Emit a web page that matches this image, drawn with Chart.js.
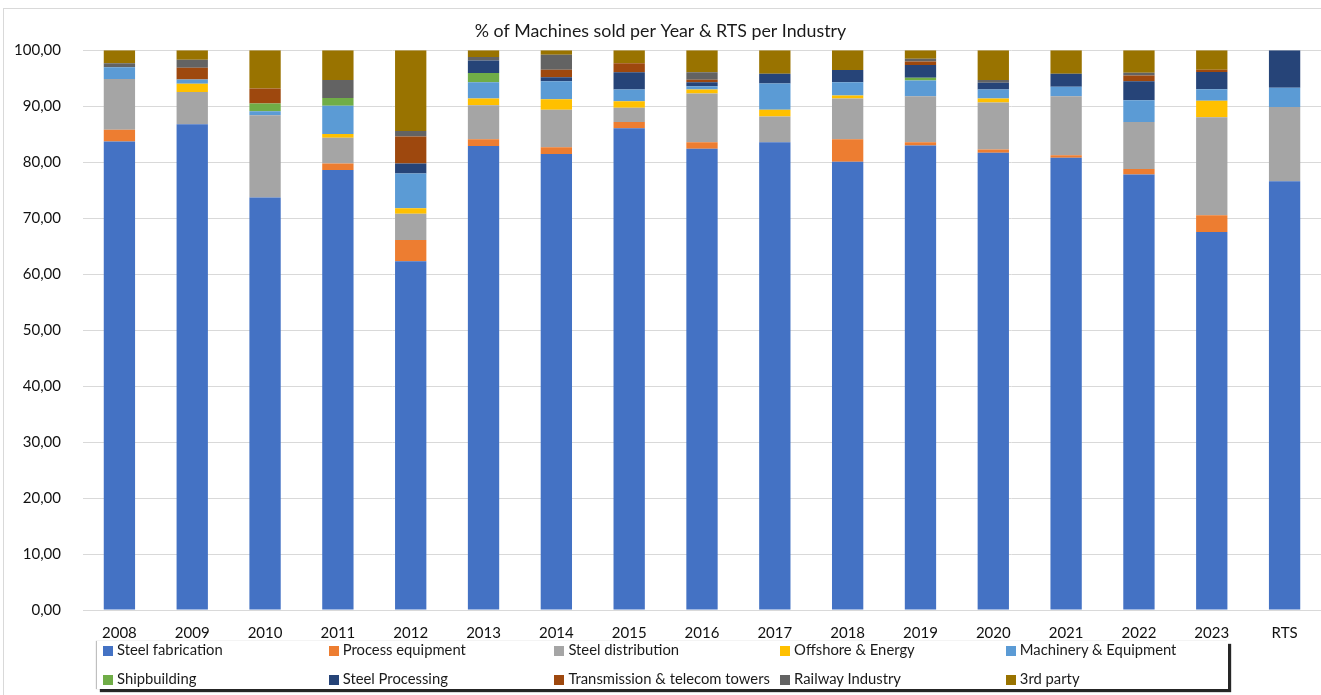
<!DOCTYPE html>
<html>
<head>
<meta charset="utf-8">
<title>% of Machines sold per Year & RTS per Industry</title>
<script src="https://cdn.jsdelivr.net/npm/chart.js@4.4.1/dist/chart.umd.min.js"></script>
<style>
  html, body { margin: 0; padding: 0; background: #fff; }
  #wrap { position: relative; width: 1321px; height: 695px; overflow: hidden; }
  #frame { position: absolute; left: 3px; top: 8px; width: 1330px; height: 700px;
           border-left: 1px solid #d9d9d9; border-top: 1px solid #d9d9d9; }
  #chart { position: absolute; left: 0; top: 0; }
  #legend {
    position: absolute; left: 97px; top: 641px; width: 1131px; height: 48px;
    background: #fff; box-shadow: 3px 3px 1px rgba(0,0,0,0.85), -1px 0 1px rgba(0,0,0,0.25);
    font-family: Lato, 'Open Sans', sans-serif; font-size: 14.8px; color: #1a1a1a;
  }
  .lg-item { position: absolute; white-space: nowrap; line-height: 16px; }
  .lg-box { display: inline-block; width: 10px; height: 10px; margin-right: 4px; vertical-align: -1px; }
</style>
</head>
<body>
<div id="wrap">
  <div id="frame"></div>
  <canvas id="chart" width="1321" height="695"></canvas>
  <div id="legend"></div>
</div>
<script>
/* ── Categories ── */
const years = ['2008','2009','2010','2011','2012','2013','2014','2015','2016',
               '2017','2018','2019','2020','2021','2022','2023','RTS'];

/* ── Share per industry (%), one value per category ── */
const steelFabrication   = [83.7, 86.8, 73.7, 78.6, 62.3, 82.9, 81.5, 86.1, 82.4, 83.6, 80.1, 83.0, 81.7, 80.8, 77.8, 67.55, 76.6];
const processEquipment   = [2.1, 0, 0, 1.2, 3.8, 1.2, 1.2, 1.1, 1.2, 0, 4.0, 0.6, 0.6, 0.45, 1.0, 3.0, 0];
const steelDistribution  = [9.1, 5.75, 14.7, 4.6, 4.7, 6.1, 6.7, 2.55, 8.7, 4.6, 7.3, 8.2, 8.4, 10.55, 8.4, 17.5, 13.3];
const offshoreEnergy     = [0, 1.5, 0, 0.65, 1.0, 1.2, 1.85, 1.15, 0.7, 1.2, 0.55, 0, 0.7, 0, 0, 2.95, 0];
const machineryEquipment = [2.1, 0.75, 0.7, 5.05, 6.2, 2.9, 3.25, 2.1, 0.6, 4.7, 2.35, 2.8, 1.6, 1.7, 3.9, 2.05, 3.4];
const shipbuilding       = [0, 0, 1.4, 1.4, 0, 1.65, 0, 0, 0, 0, 0, 0.5, 0, 0, 0, 0, 0];
const steelProcessing    = [0, 0, 0, 0, 1.8, 2.25, 0.7, 3.1, 0.7, 1.7, 2.2, 2.3, 1.2, 2.3, 3.4, 3.1, 6.7];
const transmissionTowers = [0, 2.1, 2.7, 0, 4.8, 0, 1.35, 1.6, 0.45, 0, 0, 0.6, 0, 0, 1.0, 0.4, 0];
const railwayIndustry    = [0.7, 1.4, 0, 3.2, 1.0, 0.6, 2.65, 0, 1.35, 0, 0, 0.5, 0.5, 0, 0.5, 0, 0];
const thirdParty         = [2.3, 1.7, 6.8, 5.3, 14.4, 1.2, 0.8, 2.3, 3.9, 4.2, 3.5, 1.5, 5.3, 4.2, 4.0, 3.45, 0];

const yTicks = [0, 10, 20, 30, 40, 50, 60, 70, 80, 90, 100];

/* ── Series (stack order bottom → top) ── */
const series = [
  { label: 'Steel fabrication',             data: steelFabrication,   color: '#4472C4' },
  { label: 'Process equipment',             data: processEquipment,   color: '#ED7D31' },
  { label: 'Steel distribution',            data: steelDistribution,  color: '#A5A5A5' },
  { label: 'Offshore & Energy',             data: offshoreEnergy,     color: '#FFC000' },
  { label: 'Machinery & Equipment',         data: machineryEquipment, color: '#5B9BD5' },
  { label: 'Shipbuilding',                  data: shipbuilding,       color: '#70AD47' },
  { label: 'Steel Processing',              data: steelProcessing,    color: '#264478' },
  { label: 'Transmission & telecom towers', data: transmissionTowers, color: '#9E480E' },
  { label: 'Railway Industry',              data: railwayIndustry,    color: '#636363' },
  { label: '3rd party',                     data: thirdParty,         color: '#997300' }
];

const FONT = "Lato, 'Open Sans', sans-serif";
const fmt = v => Number(v).toFixed(2).replace('.', ',');

new Chart(document.getElementById('chart'), {
  type: 'bar',
  data: {
    labels: years,
    datasets: series.map(s => ({
      label: s.label, data: s.data, backgroundColor: s.color,
      borderWidth: 0, barPercentage: 0.86, categoryPercentage: 0.5
    }))
  },
  options: {
    responsive: false, animation: false,
    layout: { padding: { left: 0, right: 0, top: 0, bottom: 45 } },
    plugins: {
      legend: { display: false },
      tooltip: { enabled: false },
      title: {
        display: true, text: '% of Machines sold per Year & RTS per Industry',
        color: '#1a1a1a', font: { family: FONT, size: 17.8, weight: 'normal' },
        padding: { top: 21, bottom: 8 }
      }
    },
    scales: {
      x: {
        stacked: true,
        grid: { display: false },
        border: { color: '#d9d9d9' },
        ticks: { color: '#111', font: { family: FONT, size: 15 }, padding: 6 },
        afterFit: s => { s.height = 40; }
      },
      y: {
        stacked: true, min: 0, max: 100,
        afterBuildTicks: s => { s.ticks = yTicks.map(v => ({ value: v })); },
        grid: { color: '#d9d9d9', drawTicks: false },
        border: { display: false },
        ticks: { color: '#111', font: { family: FONT, size: 15 }, padding: 22, callback: v => fmt(v) },
        afterFit: s => { s.width = 83; }
      }
    }
  }
});

/* ── Legend: two rows of five, column pitch as in the sheet ── */
const legendEl = document.getElementById('legend');
series.forEach((s, i) => {
  const col = i % 5, row = Math.floor(i / 5);
  const item = document.createElement('div');
  item.className = 'lg-item';
  item.style.left = (6 + col * 225.7) + 'px';
  item.style.top = (0 + row * 29) + 'px';
  item.innerHTML = `<span class="lg-box" style="background:${s.color}"></span>${s.label}`;
  legendEl.appendChild(item);
});
</script>
</body>
</html>
